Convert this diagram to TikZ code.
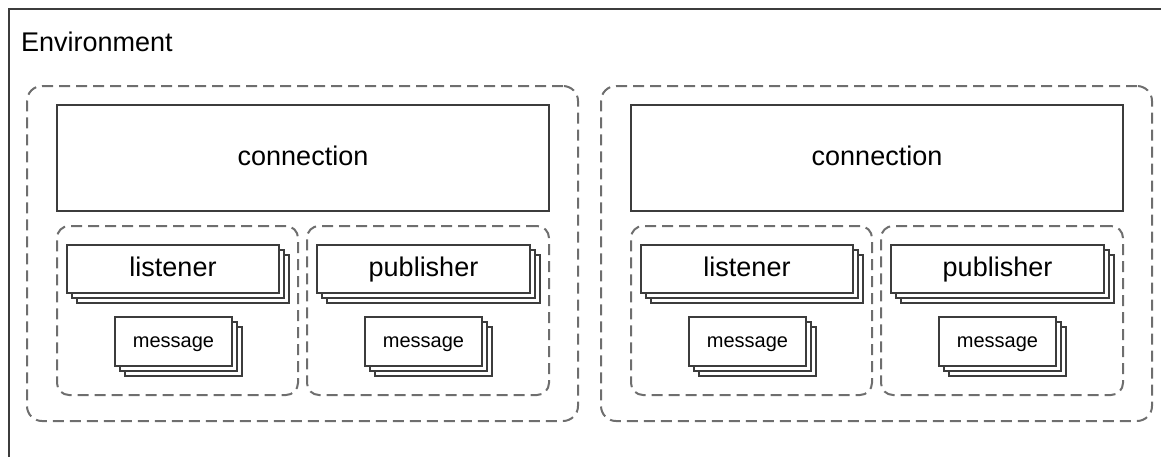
\documentclass[tikz,border=0pt]{standalone}
\usepackage{fontspec}
\setmainfont{Liberation Sans}
\usetikzlibrary{shadows}

\definecolor{boxgray}{HTML}{3C3C3C}
\definecolor{dashgray}{HTML}{6E6E6E}

\tikzset{
    solidbox/.style = {draw = boxgray, line width = 1.4pt, fill = white,
        inner sep = 0pt, text height = 20pt, text depth = 6pt,
        font = \fontsize{27}{30}\selectfont},
    stackbox/.style = {solidbox,
        double copy shadow = {shadow xshift = 5pt, shadow yshift = -5pt,
            draw = boxgray, line width = 1.4pt, fill = white}},
    msgbox/.style = {stackbox, text height = 15pt, text depth = 4pt,
        font = \fontsize{20}{24}\selectfont},
    groupbox/.style = {draw = dashgray, line width = 2pt,
        dash pattern = on 11pt off 6pt, rounded corners = #1, inner sep = 0pt},
}

\begin{document}
\begin{tikzpicture}[x = 1pt, y = -1pt]
    \useasboundingbox (0, 0) rectangle (1161, 456);
    \clip (0, 0) rectangle (1161, 456);

    \draw[draw = boxgray, line width = 1.8pt] (9, 9) rectangle (1175, 470);
    \node[anchor = west, inner sep = 0pt, font = \fontsize{27}{30}\selectfont]
        (env) at (21, 42) {Environment};

    \foreach \i/\dx in {1/0, 2/574} {
        \begin{scope}[xshift = \dx pt]
            \node[groupbox = 15pt, minimum width = 551pt, minimum height = 335pt]
                (side\i) at (302.5, 253.5) {};
            \node[solidbox, minimum width = 492pt, minimum height = 106pt]
                (conn\i) at (303, 158) {connection};

            \node[groupbox = 12pt, minimum width = 241pt, minimum height = 169pt]
                (lgroup\i) at (177.5, 310.5) {};
            \node[groupbox = 12pt, minimum width = 242pt, minimum height = 169pt]
                (pgroup\i) at (428, 310.5) {};

            \node[stackbox, minimum width = 212pt, minimum height = 48pt]
                (listener\i) at (173, 269) {listener};
            \node[stackbox, minimum width = 213pt, minimum height = 48pt]
                (publisher\i) at (423.5, 269) {publisher};

            \node[msgbox, minimum width = 117pt, minimum height = 49pt]
                (lmsg\i) at (173.5, 341.5) {message};
            \node[msgbox, minimum width = 117pt, minimum height = 49pt]
                (pmsg\i) at (423.5, 341.5) {message};
        \end{scope}
    }
\end{tikzpicture}
\end{document}
